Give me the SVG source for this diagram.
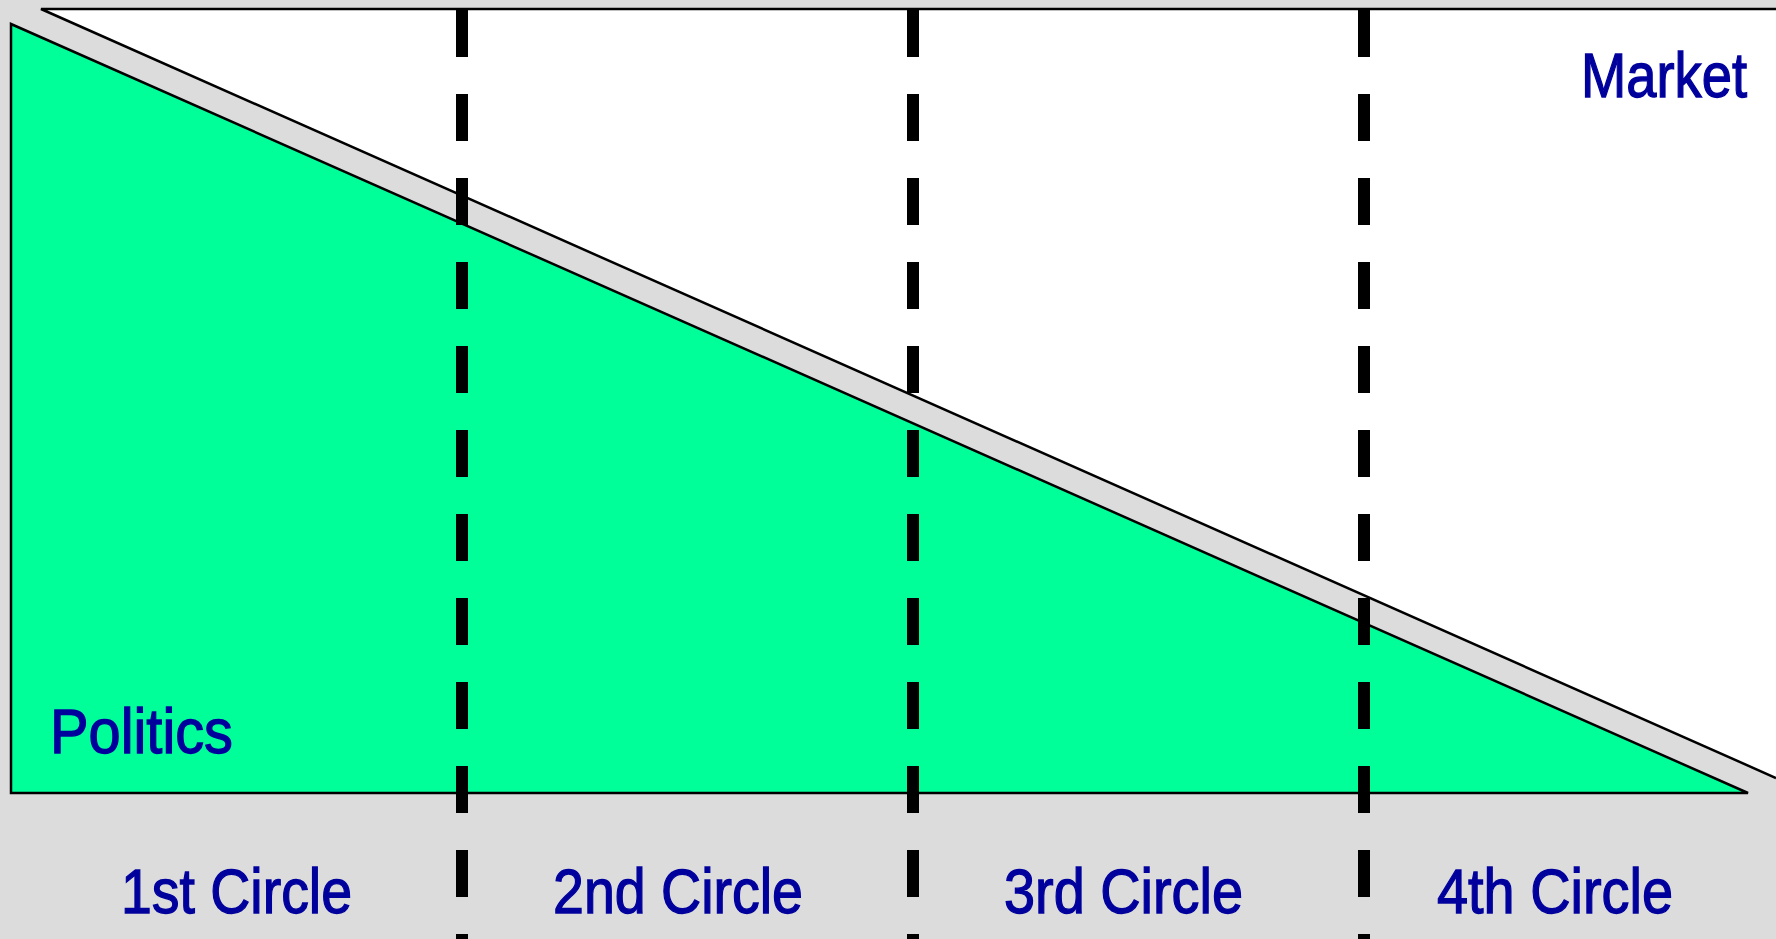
<svg xmlns="http://www.w3.org/2000/svg" width="1776" height="939" viewBox="0 0 1776 939">
<style>
.lbl{font-family:"Liberation Sans Narrow","Liberation Sans",Arial,sans-serif;font-size:63px;fill:#00009C;stroke:#00009C;stroke-width:1.3}
.edge{stroke:#000;stroke-width:2.5;fill:none}
.div{stroke:#000;stroke-width:12;stroke-dasharray:47 37;fill:none}
</style>
<rect x="0" y="0" width="1776" height="939" fill="#DCDCDC"/>
<g id="market">
<polygon points="41,9 1776,9 1776,778" fill="#FFFFFF"/>
<polyline class="edge" points="1776,778 41,9 1776,9"/>
<text class="lbl" x="1581" y="97" textLength="166" lengthAdjust="spacingAndGlyphs">Market</text>
</g>
<g id="politics">
<polygon points="11,24 1748,793 11,793" fill="#00FF99" stroke="#000" stroke-width="2.5"/>
<text class="lbl" x="50" y="753" textLength="183" lengthAdjust="spacingAndGlyphs">Politics</text>
</g>
<g id="dividers">
<line class="div" x1="462" y1="10" x2="462" y2="939"/>
<line class="div" x1="913" y1="10" x2="913" y2="939"/>
<line class="div" x1="1364" y1="10" x2="1364" y2="939"/>
</g>
<g id="circle1"><text class="lbl" x="121" y="913" textLength="231" lengthAdjust="spacingAndGlyphs">1st Circle</text></g>
<g id="circle2"><text class="lbl" x="553" y="913" textLength="250" lengthAdjust="spacingAndGlyphs">2nd Circle</text></g>
<g id="circle3"><text class="lbl" x="1004" y="913" textLength="239" lengthAdjust="spacingAndGlyphs">3rd Circle</text></g>
<g id="circle4"><text class="lbl" x="1437" y="913" textLength="236" lengthAdjust="spacingAndGlyphs">4th Circle</text></g>
</svg>
